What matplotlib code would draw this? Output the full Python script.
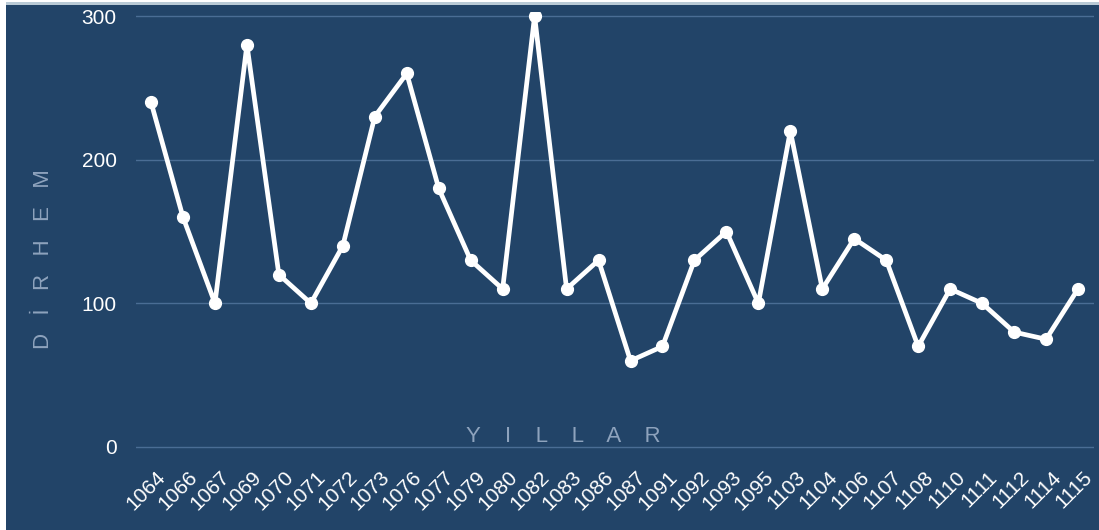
import matplotlib.pyplot as plt
import matplotlib.transforms as mtransforms
from matplotlib.patches import Rectangle

plt.rcParams['font.family'] = ['Liberation Sans', 'DejaVu Sans']

# yıllar ve dirhem değerleri
yillar = ['1064', '1066', '1067', '1069', '1070', '1071', '1072', '1073', '1076', '1077',
          '1079', '1080', '1082', '1083', '1086', '1087', '1091', '1092', '1093', '1095',
          '1103', '1104', '1106', '1107', '1108', '1110', '1111', '1112', '1114', '1115']
dirhem = [240, 160, 100, 280, 120, 100, 140, 230, 260, 180,
          130, 110, 300, 110, 130, 60, 70, 130, 150, 100,
          220, 110, 145, 130, 70, 110, 100, 80, 75, 110]
y_ticks = [0, 100, 200, 300]

bg = '#224468'
W, H = 1099, 530

fig = plt.figure(figsize=(W / 100, H / 100), dpi=100, facecolor=bg)
# soldaki beyaz şerit, üstte beyaz kenar ve ince açık çizgi
fig.patches.append(Rectangle((0, 0), 6 / W, 1, transform=fig.transFigure,
                             facecolor='white', edgecolor='none', zorder=0))
fig.patches.append(Rectangle((0, 1 - 2 / H), 1, 2 / H, transform=fig.transFigure,
                             facecolor='white', edgecolor='none', zorder=0))
fig.patches.append(Rectangle((6 / W, 1 - 5 / H), 1 - 6 / W, 3 / H, transform=fig.transFigure,
                             facecolor='#b9cad6', edgecolor='none', zorder=0))

# eksen: 0 -> y=447px, 300 -> y=16px
ppu = (447 - 16) / 300
y_lo, y_hi = -3, 303
top_px = 16 - (y_hi - 300) * ppu
bot_px = 447 + (0 - y_lo) * ppu
ax = fig.add_axes([136 / W, (H - bot_px) / H, 958 / W, (bot_px - top_px) / H])
ax.set_facecolor('none')
ax.set_zorder(2)

x = list(range(len(yillar)))
ax.plot(x, dirhem, color='white', lw=3.4, marker='o', ms=8.5, solid_joinstyle='round', zorder=3)

ax.set_xlim(-0.47, len(yillar) - 0.5)
ax.set_ylim(y_lo, y_hi)
ax.set_yticks(y_ticks)
ax.yaxis.grid(True, color='#4a6d94', lw=1)
ax.set_axisbelow(True)
for s in ax.spines.values():
    s.set_visible(False)

ax.tick_params(axis='y', length=0, pad=14, labelsize=15, labelcolor='white')
ax.tick_params(axis='x', length=0, pad=0, labelsize=15, labelcolor='white')
ax.set_xticks(x)
ax.set_xticklabels(yillar, rotation=45, ha='right', va='top', rotation_mode='anchor')
offset = mtransforms.ScaledTranslation(5 / 100, -16 / 100, fig.dpi_scale_trans)
for lbl in ax.get_xticklabels():
    lbl.set_transform(lbl.get_transform() + offset)

fig.text(563 / W, 1 - 437 / H, 'Y    I    L    L    A    R',
         ha='center', va='center', color='#8ea3bd', fontsize=16)
fig.text(44 / W, 1 - 259 / H, 'D   İ   R   H   E   M', rotation=90,
         ha='center', va='center', color='#8ea3bd', fontsize=16)

fig.savefig('out.png', dpi=100, facecolor=fig.get_facecolor())
